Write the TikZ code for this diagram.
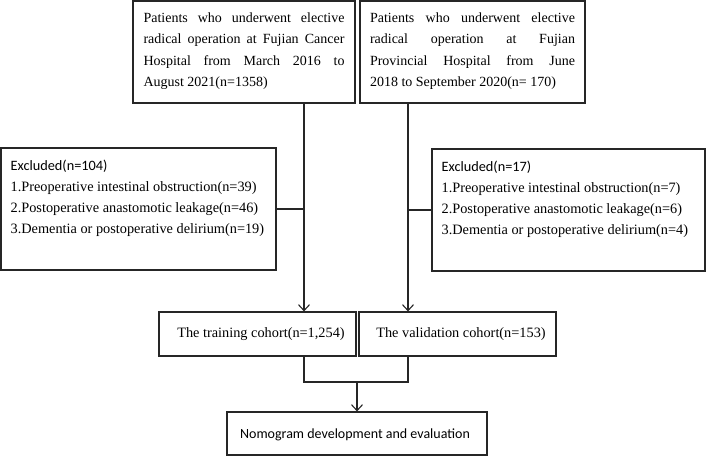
\documentclass[tikz,border=0pt]{standalone}
\usepackage{fontspec}
\setmainfont{Liberation Serif}
\newfontfamily\carlitofont{Carlito}
\usetikzlibrary{arrows.meta}
\begin{document}
\begin{tikzpicture}[x=1pt,y=-1pt,
  box/.style={draw=black!85, line width=1.1pt, inner sep=0pt},
  txt/.style={inner sep=0pt, font=\fontsize{14.3}{21}\selectfont},
  toptxt/.style={inner sep=0pt, font=\fontsize{14}{21.3}\selectfont, align=justify},
  conn/.style={draw=black!85, line width=1.1pt},
  arr/.style={conn, -{Straight Barb[length=6pt,width=11pt,line width=1.1pt]}}]
\useasboundingbox (0,0) rectangle (709,456);
% top boxes
\node[box, minimum width=222pt, minimum height=102pt] (TL) at (244,52) {};
\node[toptxt, text width=201pt] (TLt) at ([yshift=1pt]TL.center) {Patients who underwent elective\linebreak radical operation at Fujian Cancer\linebreak Hospital from March 2016 to\linebreak August 2021(n=1358)};
\node[box, minimum width=225pt, minimum height=102pt] (TR) at (472.5,52) {};
\node[toptxt, text width=205pt] (TRt) at ([yshift=1pt]TR.center) {Patients who underwent elective\linebreak radical operation at Fujian\linebreak Provincial Hospital from June\linebreak 2018 to September 2020(n= 170)};
% excluded boxes
\node[box, minimum width=275pt, minimum height=122pt] (EL) at (138.5,209) {};
\node[txt, anchor=north west, align=left] (ELt) at ([xshift=10pt,yshift=-12.5pt]EL.north west) {{\carlitofont Excluded(n=104)}\\1.Preoperative intestinal obstruction(n=39)\\2.Postoperative anastomotic leakage(n=46)\\3.Dementia or postoperative delirium(n=19)};
\node[box, minimum width=273pt, minimum height=122pt] (ER) at (568.5,210) {};
\node[txt, anchor=north west, align=left] (ERt) at ([xshift=10pt,yshift=-12pt]ER.north west) {{\carlitofont Excluded(n=17)}\\1.Preoperative intestinal obstruction(n=7)\\2.Postoperative anastomotic leakage(n=6)\\3.Dementia or postoperative delirium(n=4)};
% cohorts
\node[box, minimum width=197pt, minimum height=44pt] (TC) at (257.5,334) {};
\node[txt] (TCt) at ([xshift=3.5pt]TC.center) {The training cohort(n=1,254)};
\node[box, minimum width=197pt, minimum height=44pt] (VC) at (457.5,334) {};
\node[txt] (VCt) at ([xshift=3.5pt]VC.center) {The validation cohort(n=153)};
% nomogram
\node[box, minimum width=260pt, minimum height=43pt] (NM) at (357,433.5) {};
\node[txt, font=\carlitofont\fontsize{14}{17}\selectfont] (NMt) at ([xshift=-2pt,yshift=-1pt]NM.center) {Nomogram development and evaluation};
% connectors
\coordinate (c1) at (304,0);
\coordinate (c2) at (408,0);
\coordinate (m) at (0,382);
\draw[arr] (TL.south -| c1) -- (TC.north -| c1);
\draw[arr] (TR.south -| c2) -- (VC.north -| c2);
\draw[conn] (EL.east) -- (EL.east -| c1);
\draw[conn] (ER.west) -- (ER.west -| c2);
\draw[conn] (TC.south -| c1) -- (m -| c1) -- (m -| c2) -- (VC.south -| c2);
\draw[arr] (m -| NM.north) -- (NM.north);
\end{tikzpicture}
\end{document}
